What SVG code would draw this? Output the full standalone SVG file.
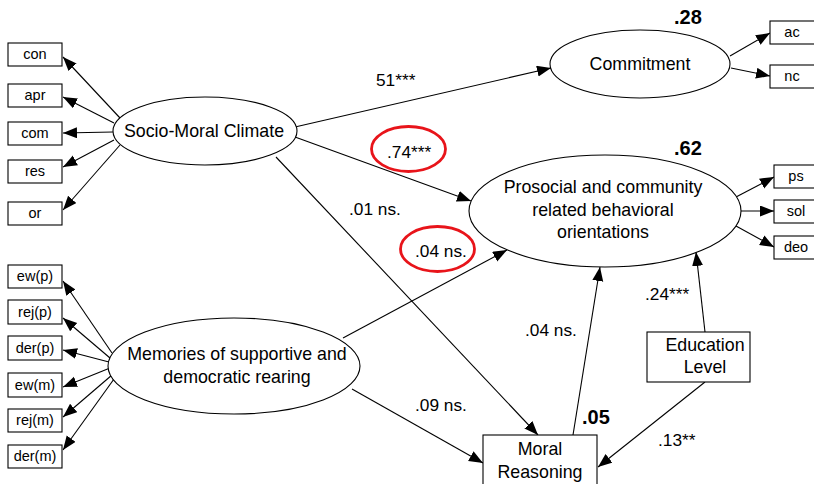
<svg xmlns="http://www.w3.org/2000/svg" width="814" height="484" viewBox="0 0 814 484">
<style>
  .bg{fill:#fff}
  .node{fill:#fff;stroke:#000;stroke-width:1.1}
  .lbl{font-family:"Liberation Sans",Arial,sans-serif;font-size:17.8px;fill:#000;text-anchor:middle}
  .sm{font-family:"Liberation Sans",Arial,sans-serif;font-size:14.5px;fill:#000;text-anchor:middle}
  .coef{font-family:"Liberation Sans",Arial,sans-serif;font-size:17.3px;fill:#000}
  .r2{font-family:"Liberation Sans",Arial,sans-serif;font-size:20px;font-weight:bold;fill:#000}
  .edge{stroke:#000;stroke-width:1.1;fill:none;marker-end:url(#arr)}
  .hl{fill:none;stroke:#e8141a;stroke-width:2.8}
</style>
<defs>
  <marker id="arr" markerUnits="userSpaceOnUse" markerWidth="15" markerHeight="12" refX="14" refY="5.5" orient="auto">
    <path d="M0,0 L14,5.5 L0,11 Z" fill="#000"/>
  </marker>
</defs>
<rect class="bg" x="0" y="0" width="814" height="484"/>

<g id="connectors">
  <line class="edge" x1="120" y1="118" x2="63" y2="57"/>
  <line class="edge" x1="114" y1="123" x2="63" y2="97"/>
  <line class="edge" x1="113" y1="132" x2="63" y2="133"/>
  <line class="edge" x1="114" y1="140" x2="63" y2="167"/>
  <line class="edge" x1="120" y1="145" x2="63" y2="210"/>

  <line class="edge" x1="112" y1="353" x2="63" y2="281"/>
  <line class="edge" x1="110" y1="358" x2="63" y2="318"/>
  <line class="edge" x1="109" y1="362" x2="63" y2="350"/>
  <line class="edge" x1="110" y1="368" x2="63" y2="387"/>
  <line class="edge" x1="112" y1="375" x2="63" y2="417"/>
  <line class="edge" x1="114" y1="379" x2="63" y2="450"/>

  <line class="edge" x1="295" y1="127" x2="551" y2="68"/>
  <line class="edge" x1="295" y1="137" x2="471" y2="201"/>
  <line class="edge" x1="276" y1="157" x2="538" y2="435"/>
  <line class="edge" x1="343" y1="338" x2="507" y2="250"/>
  <line class="edge" x1="352" y1="389" x2="483" y2="463"/>
  <line class="edge" x1="573" y1="435" x2="600" y2="267"/>
  <line class="edge" x1="705" y1="332" x2="696" y2="252"/>
  <line class="edge" x1="705" y1="382" x2="598" y2="467"/>

  <line class="edge" x1="730" y1="56" x2="770" y2="33"/>
  <line class="edge" x1="731" y1="68" x2="770" y2="76"/>
  <line class="edge" x1="736" y1="197" x2="774" y2="177"/>
  <line class="edge" x1="741" y1="211" x2="774" y2="211"/>
  <line class="edge" x1="736" y1="226" x2="774" y2="247"/>
</g>

<g id="smc"><ellipse class="node" cx="205" cy="131" rx="92" ry="34"/><text class="lbl" x="204" y="137">Socio-Moral Climate</text></g>
<g id="mem"><ellipse class="node" cx="234" cy="366" rx="126" ry="48"/><text class="lbl" x="237" y="360">Memories of supportive and</text><text class="lbl" x="237" y="383">democratic rearing</text></g>
<g id="commit"><ellipse class="node" cx="640" cy="64" rx="90" ry="34"/><text class="lbl" x="640" y="70">Commitment</text></g>
<g id="prosocial"><ellipse class="node" cx="605" cy="211" rx="136" ry="56"/><text class="lbl" x="603" y="193">Prosocial and community</text><text class="lbl" x="603" y="216">related behavioral</text><text class="lbl" x="603" y="238">orientations</text></g>
<g id="moral"><rect class="node" x="483" y="435" width="114" height="56"/><text class="lbl" x="540" y="455">Moral</text><text class="lbl" x="540" y="478">Reasoning</text></g>
<g id="edu"><rect class="node" x="647" y="332" width="103" height="50"/><text class="lbl" x="705" y="351">Education</text><text class="lbl" x="705" y="373">Level</text></g>

<g id="con"><rect class="node" x="8" y="43" width="54" height="23"/><text class="sm" x="35" y="59">con</text></g>
<g id="apr"><rect class="node" x="8" y="84" width="54" height="23"/><text class="sm" x="35" y="100">apr</text></g>
<g id="com"><rect class="node" x="8" y="122" width="54" height="23"/><text class="sm" x="35" y="138">com</text></g>
<g id="res"><rect class="node" x="8" y="160" width="54" height="23"/><text class="sm" x="35" y="176">res</text></g>
<g id="or"><rect class="node" x="8" y="202" width="54" height="23"/><text class="sm" x="35" y="218">or</text></g>

<g id="ewp"><rect class="node" x="8" y="265" width="54" height="23"/><text class="sm" x="35" y="281">ew(p)</text></g>
<g id="rejp"><rect class="node" x="8" y="300" width="54" height="24"/><text class="sm" x="35" y="317">rej(p)</text></g>
<g id="derp"><rect class="node" x="8" y="336" width="54" height="24"/><text class="sm" x="35" y="353">der(p)</text></g>
<g id="ewm"><rect class="node" x="8" y="373" width="54" height="24"/><text class="sm" x="35" y="390">ew(m)</text></g>
<g id="rejm"><rect class="node" x="8" y="409" width="54" height="23"/><text class="sm" x="35" y="425">rej(m)</text></g>
<g id="derm"><rect class="node" x="8" y="445" width="54" height="23"/><text class="sm" x="35" y="461">der(m)</text></g>

<g id="ac"><rect class="node" x="770" y="21" width="52" height="23"/><text class="sm" x="792" y="37">ac</text></g>
<g id="nc"><rect class="node" x="770" y="65" width="52" height="23"/><text class="sm" x="792" y="81">nc</text></g>
<g id="ps"><rect class="node" x="774" y="165" width="52" height="23"/><text class="sm" x="796" y="181">ps</text></g>
<g id="sol"><rect class="node" x="774" y="200" width="52" height="23"/><text class="sm" x="796" y="216">sol</text></g>
<g id="deo"><rect class="node" x="774" y="236" width="52" height="23"/><text class="sm" x="796" y="252">deo</text></g>

<g id="labels">
  <text class="coef" x="376" y="86">51***</text>
  <text class="coef" x="387" y="158">.74***</text>
  <text class="coef" x="349" y="215">.01 ns.</text>
  <text class="coef" x="415" y="257">.04 ns.</text>
  <text class="coef" x="525" y="336">.04 ns.</text>
  <text class="coef" x="415" y="411">.09 ns.</text>
  <text class="coef" x="658" y="446">.13**</text>
  <text class="coef" x="645" y="300">.24***</text>
  <text class="r2" x="674" y="24">.28</text>
  <text class="r2" x="674" y="155">.62</text>
  <text class="r2" x="582" y="424">.05</text>
  <ellipse class="hl" cx="408.5" cy="149" rx="37" ry="22.5"/>
  <ellipse class="hl" cx="437.5" cy="249" rx="37" ry="22.5"/>
</g>
</svg>
